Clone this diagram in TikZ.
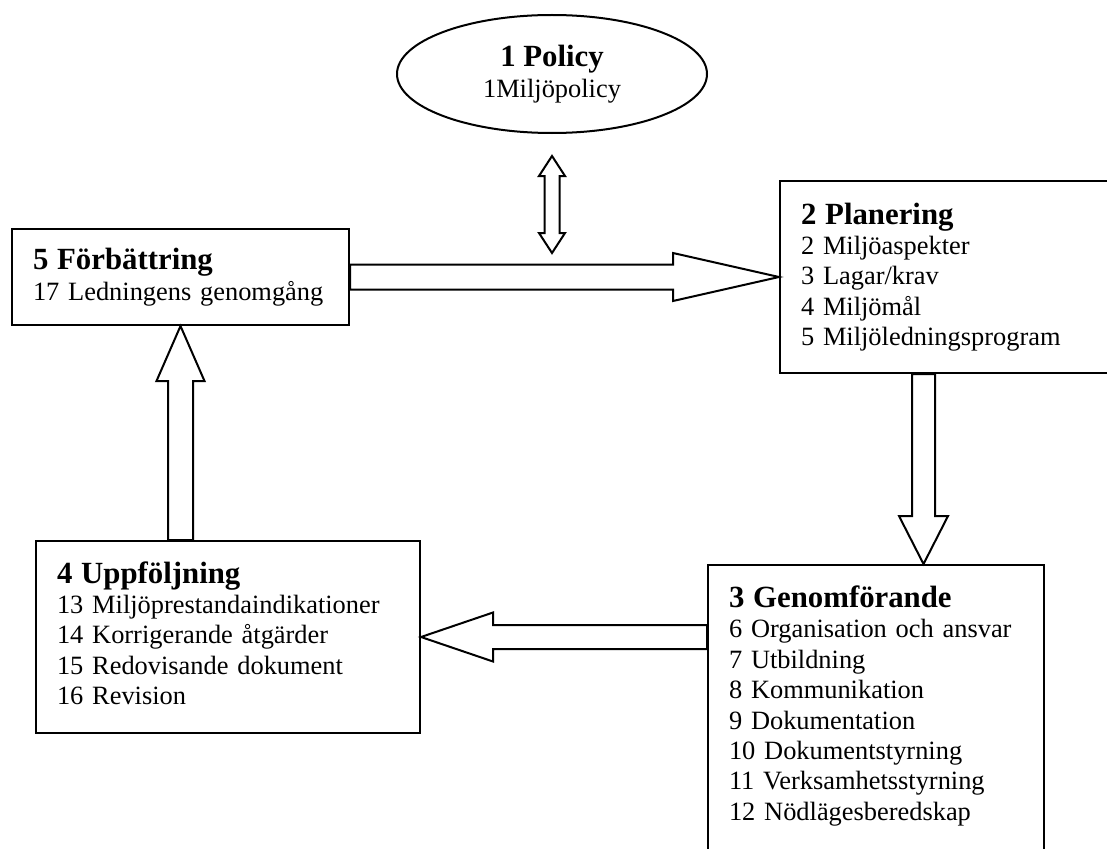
\documentclass[tikz,border=0pt]{standalone}
\usepackage{fontspec}
\setmainfont{Liberation Serif}
\usetikzlibrary{calc,shapes.geometric}

\newcommand{\bodyfont}{\fontsize{26.4}{30.4}\selectfont}
\newcommand{\headfont}{\fontsize{30.8}{34}\selectfont\bfseries}

\tikzset{
        box/.style={draw, line width=2pt, rectangle, anchor=north west, inner xsep=21pt, inner ysep=0pt, align=left, font=\bodyfont},
        oval/.style={draw, line width=2pt, ellipse, align=center, inner sep=0pt, font=\bodyfont},
        fat/.style={draw, line width=2pt, fill=white, line join=miter},
    }

% hollow block arrow: from, tip, half shaft, half head, head length
\newcommand{\hollowarrow}[5]{%
        \coordinate (ha-base) at ($(#2)!#5!(#1)$);
        \draw[fat] ($(#1)!#3!90:(#2)$) -- ($(ha-base)!#3!90:(#2)$) -- ($(ha-base)!#4!90:(#2)$) -- (#2)
            -- ($(ha-base)!#4!-90:(#2)$) -- ($(ha-base)!#3!-90:(#2)$) -- ($(#1)!#3!-90:(#2)$) -- cycle;
}
% same, with a head at both ends
\newcommand{\hollowdouble}[5]{%
        \coordinate (hd-a) at ($(#1)!#5!(#2)$);
        \coordinate (hd-b) at ($(#2)!#5!(#1)$);
        \draw[fat] (#1) -- ($(hd-a)!#4!90:(#2)$) -- ($(hd-a)!#3!90:(#2)$) -- ($(hd-b)!#3!90:(#2)$)
            -- ($(hd-b)!#4!90:(#2)$) -- (#2) -- ($(hd-b)!#4!-90:(#2)$) -- ($(hd-b)!#3!-90:(#2)$)
            -- ($(hd-a)!#3!-90:(#2)$) -- ($(hd-a)!#4!-90:(#2)$) -- cycle;
}

\begin{document}
\begin{tikzpicture}[x=1pt, y=-1pt]

        \useasboundingbox (0,0) rectangle (1107,848);

        % Policy
        \node[oval, minimum width=310pt, minimum height=118pt] (policy) at (552,74) {{\headfont 1 Policy}\\1Miljöpolicy};

        % Steps (Planering and Genomförande run past the page edge)
        \node[box, text width=295pt, minimum height=96pt] (fix) at (11,228) {{\headfont 5 Förbättring}\\17 Ledningens genomgång};
        \node[box, text width=291pt, minimum height=192pt] (plan) at (779,180) {{\headfont 2 Planering}\\2 Miljöaspekter\\3 Lagar/krav\\4 Miljömål\\5 Miljöledningsprogram};
        \node[box, text width=294pt, minimum height=291pt] (work) at (707,564) {{\headfont 3 Genomförande}\\6 Organisation och ansvar\\7 Utbildning\\8 Kommunikation\\9 Dokumentation\\10 Dokumentstyrning\\11 Verksamhetsstyrning\\12 Nödlägesberedskap\rule[-15pt]{0pt}{0pt}};
        \node[box, text width=342pt, minimum height=192pt] (follow) at (35,540) {{\headfont 4 Uppföljning}\\13 Miljöprestandaindikationer\\14 Korrigerande åtgärder\\15 Redovisande dokument\\16 Revision\rule[-8pt]{0pt}{0pt}};

        % Arrow ends
        \coordinate (dblTop) at ($(policy.south)+(0,22)$);
        \coordinate (dblBot) at ($(policy.south)+(0,119)$);
        \coordinate (downStart) at ($(plan.south west)+(144.5,0)$);
        \coordinate (downTip) at (downStart |- work.north);
        \coordinate (leftStart) at (work.west |- follow.east);
        \coordinate (upStart) at (fix.south |- follow.north);

        % Arrows
        \hollowdouble{dblTop}{dblBot}{7.5pt}{13pt}{20pt}
        \hollowarrow{fix.east}{plan.west}{12.5pt}{24pt}{106pt}
        \hollowarrow{downStart}{downTip}{11.5pt}{24.5pt}{48pt}
        \hollowarrow{leftStart}{follow.east}{12pt}{24.5pt}{72pt}
        \hollowarrow{upStart}{fix.south}{12.5pt}{24pt}{55pt}

\end{tikzpicture}
\end{document}
